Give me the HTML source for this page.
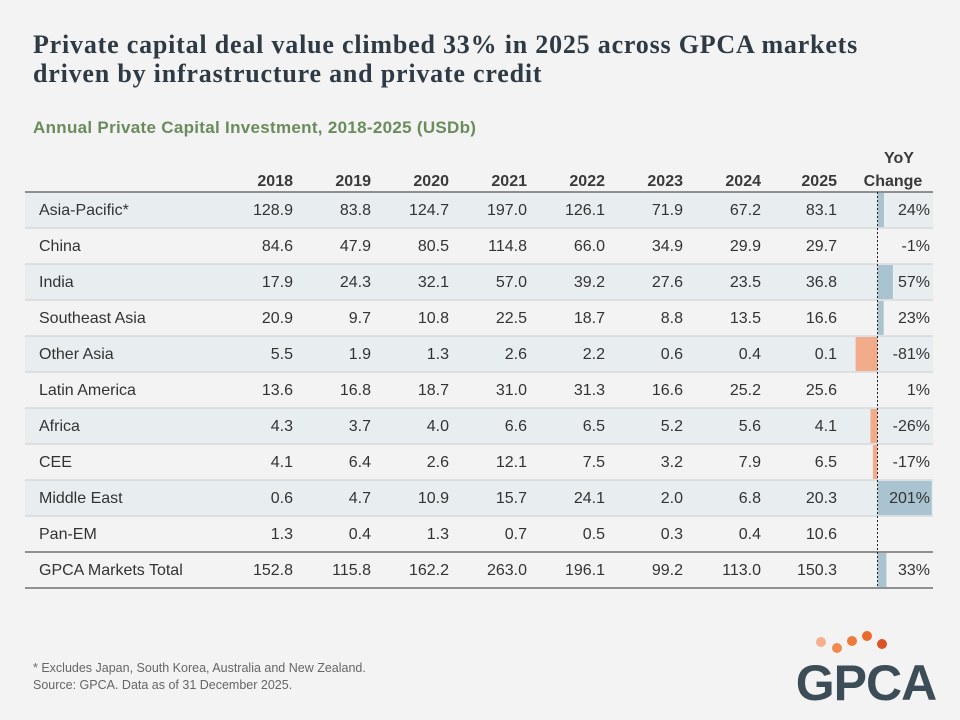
<!DOCTYPE html>
<html><head><meta charset="utf-8"><style>
body{margin:0;background:#f3f3f3;}
#c{position:relative;width:960px;height:720px;background:#f3f3f3;font-family:"Liberation Sans",sans-serif;overflow:hidden}
.t{position:absolute;white-space:nowrap}
</style></head><body>
<div id="c">
<div class="t" style="left:33px;top:30px;font-family:'Liberation Serif',serif;font-weight:bold;font-size:26px;letter-spacing:0.8px;line-height:29px;color:#2e3b45">Private capital deal value climbed 33% in 2025 across GPCA markets<br>driven by infrastructure and private credit</div>
<div class="t" style="left:33px;top:118px;font-weight:bold;font-size:17px;letter-spacing:0.3px;color:#6a8c5c">Annual Private Capital Investment, 2018-2025 (USDb)</div>
<svg id="s" width="960" height="720" style="position:absolute;left:0;top:0"></svg>
<div class="t" style="left:33px;top:660px;font-size:12.5px;line-height:17px;color:#666">* Excludes Japan, South Korea, Australia and New Zealand.<br>Source: GPCA. Data as of 31 December 2025.</div>
<svg width="160" height="84" style="position:absolute;left:785px;top:626px">
<circle cx="36" cy="16" r="5" fill="#f6b08e"/><circle cx="52" cy="22" r="5" fill="#f08a52"/><circle cx="67" cy="15" r="5" fill="#ee7a3c"/><circle cx="82" cy="10" r="5" fill="#ea6a2a"/><circle cx="97" cy="18" r="5" fill="#d95527"/>
<text x="81" y="74" text-anchor="middle" font-family="Liberation Sans,sans-serif" font-weight="bold" font-size="50" fill="#3c4d58" letter-spacing="-1">GPCA</text>
</svg>
</div>
<script>
const years=["2018","2019","2020","2021","2022","2023","2024","2025"];
const regions=["Asia-Pacific*","China","India","Southeast Asia","Other Asia","Latin America","Africa","CEE","Middle East","Pan-EM","GPCA Markets Total"];
const values=[
[128.9,83.8,124.7,197.0,126.1,71.9,67.2,83.1],
[84.6,47.9,80.5,114.8,66.0,34.9,29.9,29.7],
[17.9,24.3,32.1,57.0,39.2,27.6,23.5,36.8],
[20.9,9.7,10.8,22.5,18.7,8.8,13.5,16.6],
[5.5,1.9,1.3,2.6,2.2,0.6,0.4,0.1],
[13.6,16.8,18.7,31.0,31.3,16.6,25.2,25.6],
[4.3,3.7,4.0,6.6,6.5,5.2,5.6,4.1],
[4.1,6.4,2.6,12.1,7.5,3.2,7.9,6.5],
[0.6,4.7,10.9,15.7,24.1,2.0,6.8,20.3],
[1.3,0.4,1.3,0.7,0.5,0.3,0.4,10.6],
[152.8,115.8,162.2,263.0,196.1,99.2,113.0,150.3]];
const yoy=[24,-1,57,23,-81,1,-26,-17,201,null,33];
const s=document.getElementById('s');
const NS='http://www.w3.org/2000/svg';
function mk(tag,a,txt){const e=document.createElementNS(NS,tag);for(const k in a)e.setAttribute(k,a[k]);if(txt!=null)e.textContent=txt;s.appendChild(e);return e;}
const top0=192,rh=36,left=25,right=933;
const colR=[293,371,449,527,605,683,761,837];
const zeroX=877.5,pxPer=0.27;
function rowY(i){return top0+i*rh;}
function barX(v){return zeroX+v*pxPer;}
regions.forEach((r,i)=>{if(i%2===0&&i<10){const b=mk('rect',{x:left,y:rowY(i),width:right-left,height:rh,fill:'#e8edf0'});

}});
years.forEach((y,j)=>{const t=mk('text',{x:colR[j],y:186,'text-anchor':'end','font-weight':'bold','font-size':16,fill:'#3a3a3a'},y);

});
const h1=mk('text',{x:899,y:163,'text-anchor':'middle','font-weight':'bold','font-size':16,fill:'#3a3a3a'},'YoY');


mk('text',{x:893,y:186,'text-anchor':'middle','font-weight':'bold','font-size':16,fill:'#3a3a3a'},'Change');
mk('line',{x1:left,x2:right,y1:192,y2:192,stroke:'#555','stroke-width':1.2});
regions.forEach((r,i)=>{
 const y=rowY(i);
 if(yoy[i]!=null){const v=yoy[i];const x=barX(v);
  const b=mk('rect',{x:Math.min(x,zeroX),y:y+1,width:Math.abs(x-zeroX),height:rh-2,fill:v>=0?'#a9c4d0':'#f2ac8a'});
  
  }
 const lt=mk('text',{x:39,y:y+23,'font-size':16,fill:'#333'},r);
 
 
 values[i].forEach((v,j)=>{const t=mk('text',{x:colR[j],y:y+23,'text-anchor':'end','font-size':16,fill:'#333'},v.toFixed(1));
  
  });
 if(yoy[i]!=null){const t=mk('text',{x:930,y:y+23,'text-anchor':'end','font-size':16,fill:'#333'},yoy[i]+'%');
  
  }
 if(i<9)mk('line',{x1:left,x2:right,y1:y+rh,y2:y+rh,stroke:'#c8ced2','stroke-width':1});
});
mk('line',{x1:left,x2:right,y1:rowY(10),y2:rowY(10),stroke:'#555','stroke-width':1.2});
mk('line',{x1:left,x2:right,y1:rowY(11),y2:rowY(11),stroke:'#555','stroke-width':1.2});
mk('line',{x1:zeroX,x2:zeroX,y1:192,y2:rowY(11),stroke:'#222','stroke-width':1,'stroke-dasharray':'2,2'});
</script>
</body></html>
